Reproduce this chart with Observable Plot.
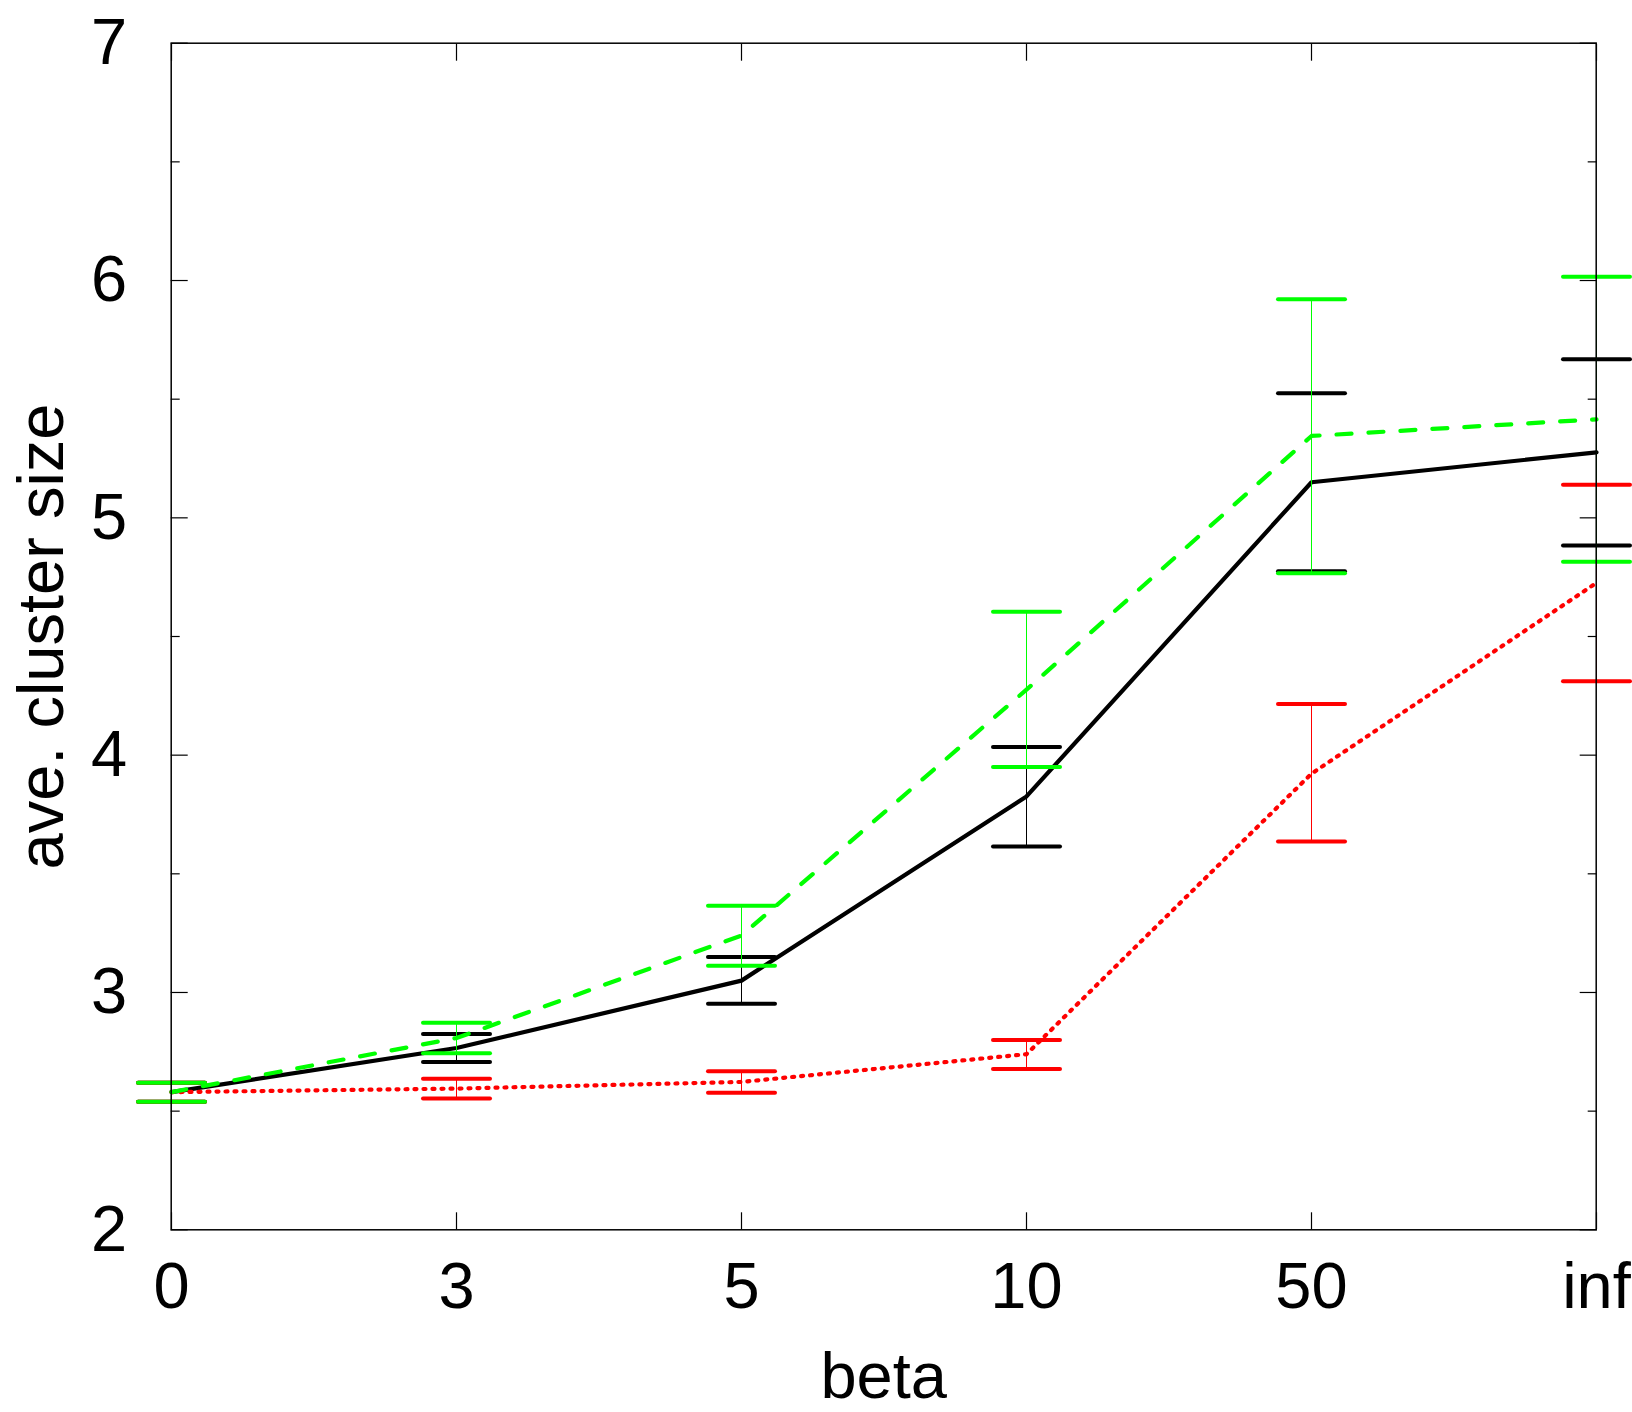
<!DOCTYPE html>
<html>
<head>
<meta charset="utf-8">
<script src="https://cdn.jsdelivr.net/npm/d3@7"></script>
<script src="https://cdn.jsdelivr.net/npm/@observablehq/plot@0.6"></script>
<style>
  html, body { margin: 0; padding: 0; background: #fff; }
  #chart svg { display: block; }
</style>
</head>
<body>
<div id="chart"></div>
<script>
// ---- data ----
const categories = ["0", "3", "5", "10", "50", "inf"];

const blackMean = [2.58, 2.766, 3.05, 3.826, 5.15, 5.276];
const blackLow  = [2.54, 2.707, 2.953, 3.615, 4.775, 4.883];
const blackHigh = [2.62, 2.825, 3.150, 4.034, 5.525, 5.668];

const redMean = [2.58, 2.595, 2.623, 2.740, 3.922, 4.726];
const redLow  = [2.54, 2.553, 2.578, 2.678, 3.636, 4.311];
const redHigh = [2.62, 2.636, 2.668, 2.800, 4.216, 5.139];

const greenMean = [2.58, 2.808, 3.24, 4.276, 5.345, 5.415];
const greenLow  = [2.54, 2.744, 3.113, 3.950, 4.767, 4.815];
const greenHigh = [2.62, 2.872, 3.365, 4.604, 5.921, 6.016];

const yTicks = [2, 3, 4, 5, 6, 7];
const yMinorTicks = [2.5, 3.5, 4.5, 5.5, 6.5];
const xLabel = "beta";
const yLabel = "ave. cluster size";

// ---- build tables ----
function rows(mean, low, high) {
  return categories.map((c, i) => ({beta: c, mean: mean[i], lo: low[i], hi: high[i]}));
}
const black = rows(blackMean, blackLow, blackHigh);
const red = rows(redMean, redLow, redHigh);
const green = rows(greenMean, greenLow, greenHigh);

const BLACK = "#000000", RED = "#ff0000", GREEN = "#00ff00";

// horizontal-bar symbol for error-bar caps (half width = r)
const capSymbol = {
  draw(context, size) {
    const w = Math.sqrt(size / Math.PI);
    context.moveTo(-w, 0);
    context.lineTo(w, 0);
  }
};

function errorMarks(data, color) {
  return [
    Plot.ruleX(data, {x: "beta", y1: "lo", y2: "hi", stroke: color, strokeWidth: 1}),
    Plot.dot(data, {x: "beta", y: "hi", symbol: capSymbol, r: 33.5, stroke: color, strokeWidth: 4, strokeLinecap: "round", fill: "none"}),
    Plot.dot(data, {x: "beta", y: "lo", symbol: capSymbol, r: 33.5, stroke: color, strokeWidth: 4, strokeLinecap: "round", fill: "none"})
  ];
}

const FS = 65;
const font = "'Liberation Sans', Arial, Helvetica, sans-serif";

const chart = Plot.plot({
  width: 1632,
  height: 1412,
  marginLeft: 170.7,
  marginRight: 36.3,
  marginTop: 42.7,
  marginBottom: 182.7,
  style: {fontFamily: font, fontSize: FS + "px", background: "#ffffff", color: "#000"},
  x: {type: "point", domain: categories, padding: 0},
  y: {type: "linear", domain: [2, 7]},
  marks: [
    // black series
    ...errorMarks(black, BLACK),
    Plot.line(black, {x: "beta", y: "mean", stroke: BLACK, strokeWidth: 4.2, strokeLinejoin: "round"}),
    // red series
    ...errorMarks(red, RED),
    Plot.line(red, {x: "beta", y: "mean", stroke: RED, strokeWidth: 4.2, strokeDasharray: "2,7", strokeLinecap: "round"}),
    // green series
    ...errorMarks(green, GREEN),
    Plot.line(green, {x: "beta", y: "mean", stroke: GREEN, strokeWidth: 4.2, strokeDasharray: "15,17", strokeLinecap: "round"}),

    // frame
    Plot.frame({stroke: "#000", strokeWidth: 1.5}),

    // y axis: labels, inward major/minor ticks, mirrored on right
    Plot.axisY(yTicks, {anchor: "left", tickSize: 0, tickPadding: 44, fontSize: FS, label: null, tickFormat: (d) => String(d)}),
    Plot.axisY(yTicks, {anchor: "left", tickSize: -17, tickFormat: () => "", label: null, strokeWidth: 1.2}),
    Plot.axisY(yMinorTicks, {anchor: "left", tickSize: -9, tickFormat: () => "", label: null, strokeWidth: 1.2}),
    Plot.axisY(yTicks, {anchor: "right", tickSize: -17, tickFormat: () => "", label: null, strokeWidth: 1.2}),
    Plot.axisY(yMinorTicks, {anchor: "right", tickSize: -9, tickFormat: () => "", label: null, strokeWidth: 1.2}),

    // x axis: labels, inward ticks bottom and top
    Plot.axisX(categories, {anchor: "bottom", tickSize: 0, tickPadding: 32, fontSize: FS, label: null}),
    Plot.axisX(categories, {anchor: "bottom", tickSize: -17, tickFormat: () => "", label: null, strokeWidth: 1.2}),
    Plot.axisX(categories, {anchor: "top", tickSize: -17, tickFormat: () => "", label: null, strokeWidth: 1.2}),

    // axis titles
    Plot.text([xLabel], {frameAnchor: "bottom", dy: 168, lineAnchor: "bottom", textAnchor: "middle", fontSize: FS, fill: "#000"}),
    Plot.text([yLabel], {frameAnchor: "left", dx: -108.7, rotate: -90, lineAnchor: "bottom", textAnchor: "middle", fontSize: FS, fill: "#000"})
  ]
});

document.getElementById("chart").appendChild(chart);
</script>
</body>
</html>
